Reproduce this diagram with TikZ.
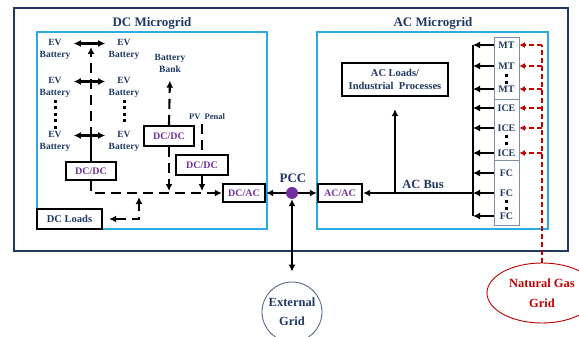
\documentclass[tikz,border=0pt]{standalone}
\usepackage{fontspec}
\setmainfont{Liberation Serif}
\usetikzlibrary{arrows.meta,shapes.geometric}
\definecolor{navy}{HTML}{1F3864}
\definecolor{gridcyan}{HTML}{2AACE2}
\definecolor{convpurple}{HTML}{7030A0}
\definecolor{gasred}{HTML}{C00000}
\definecolor{framegray}{HTML}{7F8FA6}

\tikzset{
  title/.style={text=navy, font=\bfseries\fontsize{13}{15}\selectfont},
  lbl/.style={text=navy, align=center, font=\bfseries\fontsize{9.5}{12}\selectfont},
  conv/.style={draw, line width=2.4pt, text=convpurple, inner sep=0pt, minimum height=18pt, font=\bfseries\fontsize{10}{11}\selectfont},
  loadbox/.style={draw, line width=2.4pt, text=navy, align=center, inner sep=0pt, font=\bfseries\fontsize{10.5}{13}\selectfont},
  genframe/.style={draw=framegray, line width=0.8pt, minimum width=25pt, inner sep=0pt},
  genlbl/.style={text=navy, inner sep=1pt, font=\bfseries\fontsize{10}{10}\selectfont},
  sbus/.style={line width=2.1pt},
  dbus/.style={line width=2.1pt, dash pattern=on 10pt off 6pt},
  gas/.style={gasred, line width=1.6pt, dash pattern=on 5pt off 3pt},
}

\begin{document}
\begin{tikzpicture}[x=1pt, y=-1pt, >={Latex[length=7pt,width=7pt]}]
	\useasboundingbox (0,0) rectangle (579,337);
	% frames
	\draw[navy, line width=2.5pt] (14,8) rectangle (568,251);
	\draw[gridcyan, line width=2.8pt] (37,32) rectangle (267,229);
	\draw[gridcyan, line width=2.8pt] (317,32) rectangle (548,229);
	\node[title] (dctitle) at (152,23) {DC Microgrid};
	\node[title] (actitle) at (433,23) {AC Microgrid};
	
	% EV batteries
	\foreach \r/\y in {1/49,2/87,3/141} {
		\node[lbl] (evL\r) at (55,\y) {EV\\Battery};
		\node[lbl] (evR\r) at (124,\y) {EV\\Battery};
		\draw[sbus,<->] ([yshift=5.5pt]evL\r.east) -- ([yshift=5.5pt]evR\r.west);
	}
	\foreach \y in {100,106.5,...,127} {\fill (53.7,\y) rectangle ++(2.8,2.8);}
	\foreach \y in {100,106.5,...,120} {\fill (122.7,\y) rectangle ++(2.8,2.8);}
	
	% DC side converters
	\node[conv, minimum width=50pt] (dcdcA) at (91,171) {DC/DC};
	\node[conv, minimum width=50pt, minimum height=20pt] (dcdcB) at (169,136) {DC/DC};
	\node[conv, minimum width=52pt, minimum height=20pt] (dcdcC) at (202,165) {DC/DC};
	\node[conv, minimum width=42pt] (dcac) at (244,193) {DC/AC};
	\node[loadbox, minimum width=65pt, minimum height=20pt] (dcload) at (69.5,219) {DC Loads};
	\node[lbl] (bbank) at (170,63) {Battery\\Bank};
	\node[lbl, font=\bfseries\fontsize{8.5}{10}\selectfont] (pv) at (207,117) {PV\ \ Penal};
	
	\coordinate (evmid) at (91,137);
	\coordinate (evtop) at (91,47);
	\coordinate (loadtap) at (139,197);
	\draw[sbus] (dcdcA.north) -- (evmid);
	\draw[dbus,->] (evmid) -- (evtop);
	\draw[dbus,->] (dcdcA.south) |- (dcac.west);
	\draw[dbus,->, shorten >=5pt] (dcdcB.north) -- (bbank.south);
	\draw[dbus,->, shorten >=2pt] (dcdcB.south) -- (dcdcB.south |- dcac.west);
	\draw[dbus] (pv.south -| dcdcC.north) -- (dcdcC.north);
	\draw[dbus,->, shorten >=2pt] (dcdcC.south) -- (dcdcC.south |- dcac.west);
	\draw[dbus,<->, shorten <=6pt] (dcload.east) -| (loadtap);
	
	% PCC and external grid
	\node[circle, fill=convpurple, minimum size=12pt, inner sep=0pt] (pcc) at (292,193) {};
	\node[title] (pcclbl) at (293,178) {PCC};
	\node[conv, minimum width=44pt] (acac) at (340,193) {AC/AC};
	\node[circle, draw=navy!75, line width=0.9pt, minimum size=60pt, inner sep=0pt] (extgrid) at (292,312) {};
	\node[lbl, font=\bfseries\fontsize{12.5}{19}\selectfont] (extlbl) at (extgrid.center) {External\\Grid};
	\draw[sbus,->] (pcc) -- (dcac);
	\draw[sbus,->] (pcc) -- (acac);
	\draw[sbus,<->, shorten >=10pt] (pcc) -- (extgrid);
	
	% AC side
	\node[loadbox, minimum width=106pt, minimum height=33pt] (acload) at (395,79.5) {AC Loads/\\Industrial\ \ Processes};
	\coordinate (acbusR) at (473,193);
	\node[title, font=\bfseries\fontsize{12.5}{14}\selectfont] (acbuslbl) at (423,184) {AC Bus};
	\draw[sbus,->] (acbusR) -- (acac.east);
	\draw[sbus,->, shorten >=12pt] (acac.east -| acload.south) -- (acload.south);
	
	% generators
	\node[genframe, minimum height=62pt] (mtbox) at (506.5,68) {};
	\node[genframe, minimum height=61pt] (icebox) at (506.5,129.5) {};
	\node[genframe, minimum height=65pt] (fcbox) at (506.5,192.5) {};
	\foreach \n/\t/\y in {1/MT/45,2/MT/66,3/MT/89,4/ICE/108,5/ICE/128,6/ICE/153,7/FC/173,8/FC/193,9/FC/216} {
		\node[genlbl] (gen\n) at (506.5,\y) {\t};
		\draw[sbus,->] (mtbox.west |- gen\n) -- (gen\n -| acbusR);
	}
	\draw[sbus] (gen1 -| acbusR) -- (gen9 -| acbusR);
	\foreach \y in {74,81,135,142,200,207} {\fill (505.1,\y) rectangle ++(2.8,2.8);}
	
	% natural gas
	\node[ellipse, draw=gasred, line width=0.9pt, minimum width=110pt, minimum height=60pt, inner sep=0pt] (gasgrid) at (542,293) {};
	\node[text=gasred, align=center, font=\bfseries\fontsize{12.5}{20}\selectfont] (gaslbl) at (gasgrid.center) {Natural Gas\\Grid};
	\draw[gas] (gasgrid.north) -- (gen1 -| gasgrid.north);
	\foreach \n in {1,...,6} {\draw[gas,-{Latex[length=5.5pt,width=6pt]}] (gen\n -| gasgrid.north) -- (gen\n -| mtbox.east);}
\end{tikzpicture}
\end{document}
